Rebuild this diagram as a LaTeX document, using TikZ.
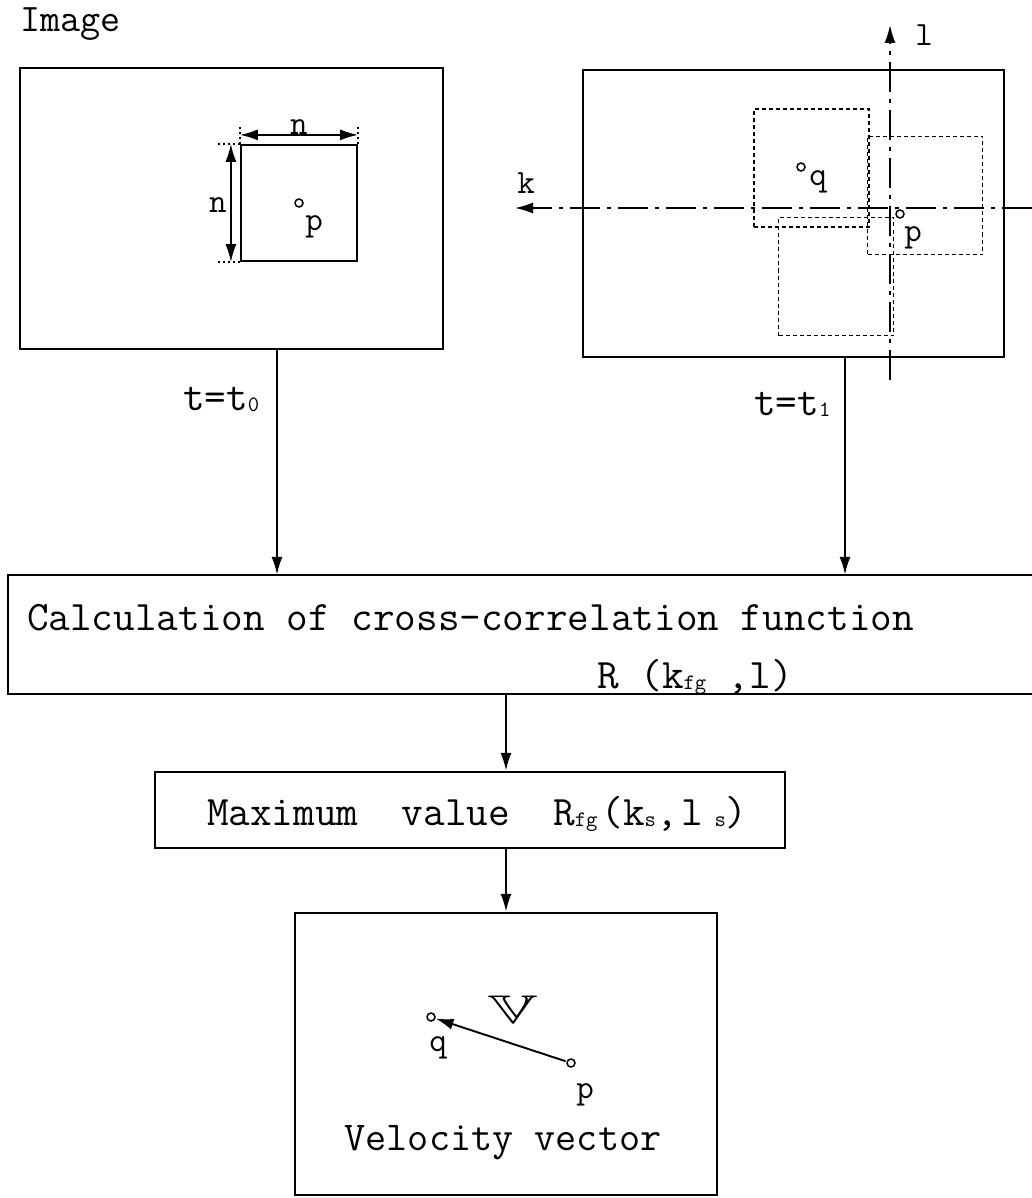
\documentclass[tikz,border=0pt]{standalone}
\usepackage{fix-cm}
\usepackage{amssymb}
\usetikzlibrary{arrows.meta,positioning}

\newcommand{\lowsub}[1]{\raisebox{-1pt}{\fontsize{22}{22}\selectfont #1}}

\begin{document}
\begin{tikzpicture}[
    x=1pt, y=-1pt,
    line width=2.2pt,
    >={Latex[length=18pt, width=11pt]},
    frame/.style={draw, inner sep=0pt},
    window/.style={draw, inner sep=0pt, minimum width=116pt, minimum height=116pt},
    searchwin/.style={draw, inner sep=0pt, line width=1.8pt, dash pattern=on 4pt off 3pt, minimum width=115pt, minimum height=118pt},
    axis/.style={line width=1.7pt, dash pattern=on 30pt off 7pt on 4pt off 7pt},
    dimline/.style={line width=1.4pt, dash pattern=on 2pt off 3pt},
    dot/.style={circle, draw, line width=1.5pt, minimum size=8pt, inner sep=0pt},
    txt/.style={font=\ttfamily\fontsize{42}{46}\selectfont, inner sep=0pt},
    letter/.style={font=\ttfamily\fontsize{34}{38}\selectfont, inner sep=0pt}
  ]
    \useasboundingbox (0,0) rectangle (1032,1198);

    % image at t0
    \node[txt, font=\ttfamily\fontsize{39}{42}\selectfont, anchor=base west] (title) at (19,32) {Image};
    \node[frame, minimum width=423pt, minimum height=281pt] (img0) at (231.5,208.5) {};
    \node[window] (win0) at (299,203) {};
    \node[dot] (p0) at (299,203) {};
    \node[letter] (p0lbl) at (314,227) {p};
    \draw[dimline] (win0.north west) -- ++(0,-19);
    \draw[dimline] (win0.north east) -- ++(0,-19);
    \draw[dimline] (win0.north west) -- ++(-22,0);
    \draw[dimline] (win0.south west) -- ++(-22,0);
    \draw[<->, line width=1.7pt] ([yshift=9pt]win0.north west) -- ([yshift=9pt]win0.north east);
    \draw[<->, line width=1.7pt] ([xshift=-9pt]win0.north west) -- ([xshift=-9pt]win0.south west);
    \node[letter] (ntop) at (299,127) {n};
    \node[letter] (nleft) at (218,205) {n};

    % image at t1 with search windows
    \node[frame, minimum width=421pt, minimum height=287pt] (img1) at (793.5,213.5) {};
    \node[searchwin] (winq) at (811.5,168) {};
    \node[searchwin] (winp) at (925,195.5) {};
    \node[searchwin] (wins) at (836,276.5) {};
    \coordinate (lbot) at (890,380);
    \coordinate (ltop) at (890,25);
    \coordinate (kright) at (1032,208);
    \coordinate (ktip) at (515,208);
    \draw[axis, ->] (lbot) -- (ltop);
    \draw[axis, ->] (kright) -- (ktip);
    \node[letter] (llbl) at (924,35) {l};
    \node[letter] (klbl) at (526,183) {k};
    \node[dot] (q1) at (801,167) {};
    \node[dot] (p1) at (900,214) {};
    \node[letter] (q1lbl) at (818,182) {q};
    \node[letter] (p1lbl) at (913,238) {p};

    % flow
    \node[minimum width=1023pt, minimum height=117pt, inner sep=0pt] (calc) at (520.5,634.5) {};
    \draw (calc.north east) -- (calc.north west) -- (calc.south west) -- (calc.south east);
    \node[txt, anchor=base west] (calctxt) at (26,630) {Calculation of cross-correlation function};
    \node[txt, anchor=base west] (rtxt) at (596,688) {R (k\lowsub{fg} ,l)};

    \coordinate (a0) at (277,0);
    \coordinate (a1) at (845,0);
    \draw[->] (img0.south -| a0) -- (calc.north -| a0);
    \draw[->] (img1.south -| a1) -- (calc.north -| a1);
    \node[txt, anchor=base west] (t0) at (182,410) {t=t\lowsub{0}};
    \node[txt, anchor=base west] (t1) at (753,415) {t=t\lowsub{1}};

    \node[frame, minimum width=630pt, minimum height=76pt] (maxv) at (470,810) {};
    \node[txt, anchor=base west] (maxtxt) at (206,825) {Maximum\ \ value\ \ R\lowsub{fg}\kern4pt(k\lowsub{s},\kern4pt l\lowsub{\ s})};

    \node[frame, minimum width=422pt, minimum height=282pt] (vel) at (506,1054) {};
    \draw[->] (calc.south -| vel.north) -- (maxv.north -| vel.north);
    \draw[->] (maxv.south -| vel.north) -- (vel.north);

    % velocity vector
    \node[dot] (q2) at (431,1017) {};
    \node[dot] (p2) at (571,1063) {};
    \draw[->, line width=1.9pt, shorten <=1pt] (p2) -- (q2);
    \node[font=\fontsize{40}{42}\selectfont, inner sep=0pt] (vsym) at (513,1010) {\scalebox{1.7}[1]{$\mathbb{V}$}};
    \node[letter] (q2lbl) at (438,1048) {q};
    \node[letter] (p2lbl) at (585,1095) {p};
    \node[txt, font=\ttfamily\fontsize{41}{44}\selectfont] (veltxt) at (503,1143) {Velocity vector};
\end{tikzpicture}
\end{document}
